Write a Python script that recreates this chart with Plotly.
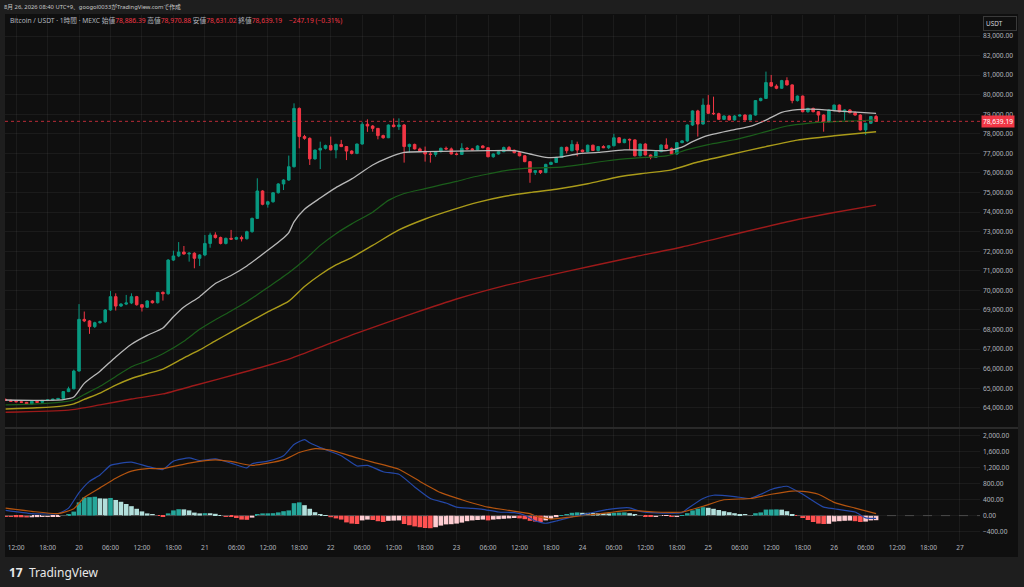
import pandas as pd
import plotly.graph_objects as go
from plotly.subplots import make_subplots

# hourly candles, Aug 19 10:00 -> Aug 26 08:00 (UTC+9)
start = "2026-08-19 10:00"

opens = [64430, 64380, 64330, 64310, 64280, 64200, 64330, 64280, 64380, 64400,
         64440, 64480, 64830, 64970, 65880, 68520, 68440, 68150, 68350, 68400,
         69000, 69680, 69200, 69300, 69360, 69680, 69270, 69140, 69460, 69370,
         69900, 69830, 71550, 71760, 71960, 71860, 71900, 71640, 71810, 72400,
         72830, 72700, 72400, 72660, 72620, 72700, 72640, 73000, 73680, 75080,
         74400, 74530, 74990, 75440, 75640, 76320, 79300, 77860, 77770, 76720,
         77170, 77260, 77400, 77180, 77460, 77350, 77120, 77000, 77480, 78490,
         78400, 78280, 77910, 77800, 78450, 78370, 78450, 77350, 77460, 77230,
         77120, 76970, 76950, 77090, 77260, 77230, 76970, 76950, 77260, 77230,
         77180, 77380, 77290, 76830, 76970, 77090, 77300, 77160, 77040, 76880,
         76580, 76030, 76120, 76020, 76440, 76540, 76800, 77310, 77140, 77460,
         77170, 77090, 77420, 77150, 77350, 77290, 77390, 77800, 77550, 77720,
         77690, 76880, 77480, 76920, 76800, 77090, 77430, 77260, 76970, 77550,
         77640, 78450, 79170, 78500, 79470, 79050, 79030, 78740, 78910, 78710,
         78910, 78960, 78710, 78960, 79700, 79810, 80620, 80440, 80330, 80720,
         80500, 79700, 79930, 79130, 79300, 79130, 78960, 78620, 79220, 79470,
         79130, 79220, 79080, 78960, 78200, 78540, 78886.39]
highs = [64470, 64420, 64380, 64340, 64300, 64350, 64350, 64400, 64420, 64460,
         64500, 64850, 65080, 65950, 69300, 68920, 68480, 68400, 68450, 69050,
         69970, 69850, 69350, 69770, 69850, 69720, 69300, 69500, 69500, 69920,
         69950, 71600, 72030, 72470, 72270, 71950, 71950, 71850, 72830, 72950,
         72970, 72750, 72700, 73090, 72750, 72800, 73050, 73720, 75730, 75120,
         74580, 75020, 75480, 75680, 76890, 79560, 79350, 77950, 77820, 77200,
         77600, 77450, 77860, 77500, 77690, 77380, 77160, 77500, 78600, 78740,
         78450, 78300, 77960, 78480, 78790, 78790, 78500, 77500, 77500, 77300,
         77350, 77100, 77120, 77300, 77350, 77300, 77050, 77520, 77330, 77280,
         77420, 77420, 77320, 77000, 77120, 77350, 77380, 77200, 77080, 76920,
         76600, 76150, 76150, 76470, 76580, 76820, 77340, 77350, 77680, 77600,
         77200, 77450, 77450, 77380, 77420, 77420, 78000, 77830, 77750, 77760,
         77720, 77500, 77520, 76950, 77120, 77460, 77770, 77300, 77580, 77680,
         78480, 79200, 79230, 79810, 79980, 79900, 79080, 78950, 78940, 78950,
         79000, 79000, 78990, 79730, 79850, 81180, 81010, 80530, 80760, 80890,
         80530, 79960, 79960, 79330, 79340, 79160, 79000, 79250, 79500, 79500,
         79250, 79260, 79150, 79000, 78560, 78900, 78970.88]
lows = [64350, 64300, 64280, 64250, 64170, 64170, 64250, 64260, 64350, 64380,
        64420, 64460, 64800, 64950, 65850, 68380, 67780, 68080, 68300, 68350,
        68950, 68970, 69150, 69250, 69300, 69220, 68920, 69100, 69330, 69330,
        69480, 69780, 71500, 71700, 71830, 71470, 71130, 71250, 71750, 72180,
        72650, 72350, 72350, 72580, 72580, 72500, 72600, 72950, 73650, 74350,
        74230, 74480, 74950, 75130, 75600, 76280, 77260, 77700, 76410, 76680,
        76200, 77200, 77150, 76750, 77320, 76660, 76950, 76960, 77450, 78100,
        78110, 77720, 77750, 77780, 78330, 78200, 76530, 77040, 77200, 77080,
        76580, 76530, 76830, 77050, 77180, 76950, 76900, 76920, 77200, 77150,
        77150, 77260, 76800, 76780, 76940, 77060, 77130, 77000, 76850, 76550,
        75500, 75900, 75950, 75990, 76420, 76510, 76780, 77000, 77100, 76850,
        77050, 77060, 77120, 77100, 77270, 77220, 77360, 77520, 77520, 77180,
        76850, 76850, 76900, 76700, 76780, 77060, 77230, 76950, 76940, 77520,
        77580, 78400, 77860, 78470, 79020, 78960, 78720, 78710, 78690, 78680,
        78880, 78690, 78680, 78930, 79660, 79780, 80400, 80280, 80300, 80470,
        79560, 79650, 79100, 79080, 79100, 78620, 78110, 78580, 79180, 79100,
        78690, 79050, 78930, 78170, 77940, 78500, 78631.02]
closes = [64380, 64330, 64310, 64280, 64200, 64330, 64280, 64380, 64400, 64440,
          64480, 64830, 64970, 65880, 68520, 68440, 68150, 68350, 68400, 69000,
          69680, 69200, 69300, 69360, 69680, 69270, 69140, 69460, 69370, 69900,
          69830, 71550, 71760, 71960, 71860, 71900, 71640, 71810, 72400, 72830,
          72700, 72400, 72660, 72620, 72700, 72640, 73000, 73680, 75080, 74400,
          74530, 74990, 75440, 75640, 76320, 79300, 77860, 77770, 76720, 77170,
          77260, 77400, 77180, 77460, 77350, 77120, 77000, 77480, 78490, 78400,
          78280, 77910, 77800, 78450, 78370, 78450, 77350, 77460, 77230, 77120,
          76970, 76950, 77090, 77260, 77230, 76970, 76950, 77260, 77230, 77180,
          77380, 77290, 76830, 76970, 77090, 77300, 77160, 77040, 76880, 76580,
          76030, 76120, 76020, 76440, 76540, 76800, 77310, 77140, 77460, 77170,
          77090, 77420, 77150, 77350, 77290, 77390, 77800, 77550, 77720, 77690,
          76880, 77480, 76920, 76800, 77090, 77430, 77260, 76970, 77550, 77640,
          78450, 79170, 78500, 79470, 79050, 79030, 78740, 78910, 78710, 78910,
          78960, 78710, 78960, 79700, 79810, 80620, 80440, 80330, 80720, 80500,
          79700, 79930, 79130, 79300, 79130, 78960, 78620, 79220, 79470, 79130,
          79220, 79080, 78960, 78200, 78540, 78886.38, 78639.19]

# moving averages (candle index, value)
ma_white_idx = [0, 6, 11, 13, 15, 18, 21, 24, 27, 30, 32, 34, 37, 40, 43, 46, 50, 53, 54, 55,
                57, 60, 63, 66, 70, 73, 76, 80, 86, 92, 97, 100, 103, 106, 109, 113, 118,
                122, 126, 129, 131, 134, 139, 142, 145, 148, 151, 155, 158, 163, 166]
ma_white = [64400, 64380, 64420, 64550, 65250, 65870, 66600, 67250, 67700, 68080, 68650,
            69150, 69680, 70350, 70760, 71250, 72050, 72680, 72950, 73500, 74150, 74720,
            75250, 75700, 76410, 76790, 77050, 77090, 77120, 77140, 77140, 76970, 76800,
            76820, 76970, 77050, 77180, 77170, 77140, 77320, 77600, 77920, 78220, 78380,
            78700, 79100, 79240, 79250, 79180, 79100, 79050]
ma_green_idx = [0, 6, 11, 13, 15, 18, 21, 24, 27, 30, 34, 37, 40, 43, 46, 50, 54, 57, 60, 63,
                66, 70, 73, 76, 80, 83, 86, 89, 92, 95, 99, 103, 106, 109, 113, 118, 122,
                126, 130, 134, 139, 142, 145, 149, 153, 158, 163, 166]
ma_green = [64150, 64200, 64300, 64400, 64680, 65100, 65600, 66100, 66400, 66760, 67400,
            68010, 68500, 68950, 69420, 70150, 70900, 71550, 72300, 72900, 73400, 74000,
            74600, 74950, 75200, 75390, 75570, 75780, 75950, 76110, 76240, 76270, 76300,
            76400, 76560, 76720, 76800, 76870, 77190, 77450, 77700, 77900, 78110, 78400,
            78540, 78620, 78670, 78710]
ma_yellow_idx = [0, 6, 11, 13, 15, 18, 21, 24, 27, 30, 34, 37, 40, 43, 46, 50, 54, 57, 60, 63,
                 66, 70, 75, 80, 85, 90, 95, 100, 105, 111, 117, 122, 127, 132, 138, 145,
                 151, 158, 166]
ma_yellow = [63940, 64000, 64100, 64200, 64430, 64750, 65160, 65500, 65750, 65980, 66550,
             66960, 67420, 67870, 68320, 68900, 69450, 70200, 70800, 71300, 71680, 72300,
             73090, 73650, 74100, 74500, 74800, 75000, 75170, 75450, 75810, 75990, 76160,
             76560, 76930, 77350, 77680, 77900, 78110]
ma_red_idx = [0, 12, 18, 24, 30, 36, 45, 54, 60, 67, 78, 86, 95, 103, 112, 120, 129, 141,
              150, 158, 166]
ma_red = [63770, 63880, 64150, 64450, 64710, 65140, 65790, 66490, 67100, 67820, 68850,
          69560, 70230, 70730, 71260, 71720, 72220, 73000, 73560, 73980, 74360]

# MACD pane
macd_idx = [0, 5, 10, 12, 14, 16, 18, 20, 22, 24, 27, 30, 32, 35, 37, 40, 43, 46, 47, 50,
            53, 55, 57, 58, 60, 64, 67, 69, 72, 75, 78, 81, 84, 86, 89, 91, 94, 97, 99,
            101, 103, 105, 108, 111, 115, 119, 121, 124, 129, 130, 133, 135, 139, 142,
            144, 146, 149, 152, 156, 158, 162, 164, 166]
macd = [130, 50, 50, 186, 572, 853, 1013, 1254, 1310, 1335, 1230, 1150, 1359, 1439, 1375,
        1415, 1310, 1190, 1294, 1359, 1495, 1776, 1897, 1816, 1696, 1495, 1238, 1254, 1094,
        1030, 716, 427, 315, 210, 180, 154, 90, 74, 10, -135, -191, -135, -30, 50, 154,
        194, 106, 66, 74, 170, 427, 508, 475, 427, 532, 652, 732, 532, 210, 170, 90, -55,
        -70]
signal_idx = [0, 5, 10, 13, 15, 18, 21, 24, 27, 30, 35, 40, 43, 47, 53, 56, 59, 62, 67, 70,
              75, 79, 83, 87, 89, 92, 96, 100, 101, 104, 108, 111, 115, 119, 124, 129, 133,
              137, 142, 146, 150, 152, 155, 158, 162, 166]
signal = [186, 106, 50, 170, 451, 692, 933, 1110, 1174, 1174, 1310, 1391, 1351, 1254, 1391,
          1575, 1672, 1632, 1439, 1335, 1158, 853, 572, 395, 315, 210, 130, 50, -6, -87,
          -30, 10, 74, 130, 90, 90, 234, 395, 427, 532, 612, 604, 532, 331, 186, 50]
hist = [-30, -35, -40, -42, -45, -42, -38, -32, -26, -20, -12,
        5, 20, 100, 330, 450, 460, 470, 430, 425, 440,
        390, 345, 290, 235, 170, 105, 55, 15, -10, -25,
        55, 130, 160, 155, 130, 75, 55, 60, 58, 45,
        5, -15, -20, -60, -100, -105, -50, 40, 55, 57,
        60, 80, 110, 130, 310, 330, 260, 170, 85, 40,
        5, -40, -70, -100, -170, -200, -210, -120, -100, -110,
        -140, -160, -130, -125, -120, -210, -240, -270, -290, -310,
        -315, -290, -250, -220, -215, -200, -175, -140, -120, -110,
        -100, -120, -100, -90, -80, -70, -60, -70, -90, -130,
        -150, -160, -120, -80, -40, 10, 40, 70, 80, 70,
        68, 65, 60, 58, 55, 70, 75, 80, 60, 15,
        5, -15, -25, -20, -10, -8, -25, -15, 5, 60,
        130, 175, 210, 195, 170, 140, 110, 85, 60, 40,
        20, 10, 60, 80, 150, 152, 155, 148, 110, 30,
        -5, -60, -110, -160, -200, -210, -205, -150, -140, -130,
        -125, -140, -160, -150, -120, -115]

price_ticks = list(range(64000, 84000, 1000))
macd_ticks = [-400, 0, 400, 800, 1200, 1600, 2000]

times = pd.date_range(start, periods=len(closes), freq="h")
last_price = closes[-1]

# histogram colours: rising / falling above and below zero
hist_colors = []
for k, v in enumerate(hist):
    prev = hist[k - 1] if k else v
    if v >= 0:
        hist_colors.append("#26a69a" if v >= prev else "#b2dfdb")
    else:
        hist_colors.append("#ff5252" if v <= prev else "#ffcdd2")

# x ticks every 6 hours, day number at midnight
xt = pd.date_range("2026-08-19 12:00", "2026-08-27 00:00", freq="6h")
xt_text = [str(t.day) if t.hour == 0 else t.strftime("%H:%M") for t in xt]

W, H = 1024, 587
L, R, T, B = 5, 44, 15, 46
pw, ph = W - L - R, H - T - B


def px(x):
    return (x - L) / pw


def py(y):
    return (H - B - y) / ph


split = py(428)

fig = make_subplots(rows=2, cols=1, shared_xaxes=True, vertical_spacing=0)

fig.add_trace(go.Candlestick(
    x=times, open=opens, high=highs, low=lows, close=closes,
    increasing=dict(line=dict(color="#089981", width=1), fillcolor="#089981"),
    decreasing=dict(line=dict(color="#f23645", width=1), fillcolor="#f23645"),
    whiskerwidth=0, hoverinfo="skip"), row=1, col=1)

for idx, vals, col, w in [(ma_red_idx, ma_red, "#9c1a1a", 1.4),
                          (ma_yellow_idx, ma_yellow, "#aa9b1a", 1.4),
                          (ma_green_idx, ma_green, "#1b5e1b", 1.2),
                          (ma_white_idx, ma_white, "#b8b8b8", 1.3)]:
    fig.add_trace(go.Scatter(x=times[idx], y=vals, mode="lines",
                             line=dict(color=col, width=w, shape="spline", smoothing=0.6),
                             hoverinfo="skip"), row=1, col=1)

fig.add_trace(go.Bar(x=times, y=hist, marker=dict(color=hist_colors, line=dict(width=0)),
                     hoverinfo="skip"), row=2, col=1)
fig.add_trace(go.Scatter(x=times[macd_idx], y=macd, mode="lines",
                         line=dict(color="#2448a8", width=1.2, shape="spline", smoothing=0.5),
                         hoverinfo="skip"), row=2, col=1)
fig.add_trace(go.Scatter(x=times[signal_idx], y=signal, mode="lines",
                         line=dict(color="#b4540f", width=1.2, shape="spline", smoothing=0.5),
                         hoverinfo="skip"), row=2, col=1)

grid = "rgba(255,255,255,0.05)"
tickfont = dict(size=6.6, color="#b2b5be")
xrange = ["2026-08-19 09:53", "2026-08-27 03:49"]

fig.update_xaxes(range=xrange, tickvals=xt, ticktext=xt_text, showgrid=True, gridcolor=grid,
                 zeroline=False, showline=False, ticks="", tickfont=tickfont,
                 rangeslider_visible=False)
fig.update_xaxes(showticklabels=False, row=1, col=1)
fig.update_xaxes(showticklabels=True, ticklabelstandoff=1, row=2, col=1)

fig.update_yaxes(side="right", showgrid=True, gridcolor=grid, zeroline=False, showline=False,
                 ticks="", tickfont=tickfont, tickformat=",.2f", ticklabelstandoff=2)
fig.update_yaxes(range=[62969, 84073], tickvals=price_ticks, domain=[split, 1], row=1, col=1)
fig.update_yaxes(range=[-634, 2186], tickvals=macd_ticks, domain=[0, split], row=2, col=1)

# current price line
fig.add_hline(y=last_price, line=dict(color="#f23645", width=1, dash="dot"), opacity=0.75,
              row=1, col=1)
fig.add_hline(y=0, line=dict(color="#4a4a4a", width=1, dash="dash"), row=2, col=1)

# chart panel, pane separator
fig.add_shape(type="rect", xref="paper", yref="paper", x0=px(5), x1=px(1018), y0=py(557),
              y1=py(14), fillcolor="#0f0f0f", line_width=0, layer="below")
fig.add_shape(type="line", xref="paper", yref="paper", x0=px(5), x1=px(1018), y0=split,
              y1=split, line=dict(color="#2a2a2a", width=2))

red = "#f23645"
head = (f"Bitcoin / USDT · 1時間 · MEXC 始値<span style='color:{red}'>{opens[-1]:,.2f}</span>"
        f" 高値<span style='color:{red}'>{highs[-1]:,.2f}</span>"
        f" 安値<span style='color:{red}'>{lows[-1]:,.2f}</span>"
        f" 終値<span style='color:{red}'>{closes[-1]:,.2f}</span>"
        f"    <span style='color:{red}'>−247.19 (−0.31%)</span>")

fig.update_layout(
    width=W, height=H, margin=dict(l=L, r=R, t=T, b=B),
    paper_bgcolor="#1e1e1e", plot_bgcolor="#0f0f0f",
    font=dict(family="Noto Sans, Noto Sans CJK JP", color="#b2b5be"),
    showlegend=False, bargap=0.12,
    annotations=[
        dict(text="8月 26, 2026 08:40 UTC+9、googol0033がTradingView.comで作成",
             xref="paper", yref="paper", x=px(2), y=py(7), xanchor="left",
             yanchor="middle", showarrow=False, font=dict(size=5.8, color="#c8c8c8")),
        dict(text=head, xref="paper", yref="paper", x=px(8), y=py(21), xanchor="left",
             yanchor="middle", showarrow=False, font=dict(size=6.7, color="#b2b5be")),
        dict(text="USDT", xref="paper", yref="paper", x=px(983), y=py(23), xanchor="left",
             yanchor="middle", showarrow=False, width=28, align="left",
             bordercolor="#3a3a3a", borderwidth=1, borderpad=2, bgcolor="#0f0f0f",
             font=dict(size=6.4, color="#d1d4dc")),
        dict(text=f"{last_price:,.2f}", xref="paper", yref="y", x=1, y=last_price,
             xanchor="left", xshift=1, yanchor="middle", showarrow=False,
             bgcolor=red, borderpad=1, font=dict(size=6.6, color="#ffffff")),
        dict(text="<b>17</b>  TradingView", xref="paper", yref="paper", x=px(7), y=py(572),
             xanchor="left", yanchor="middle", showarrow=False,
             font=dict(size=12, color="#e8e8e8")),
    ],
)

fig.write_html("out.html", config={"displayModeBar": False},
               post_script="document.body.style.margin = '0';")
